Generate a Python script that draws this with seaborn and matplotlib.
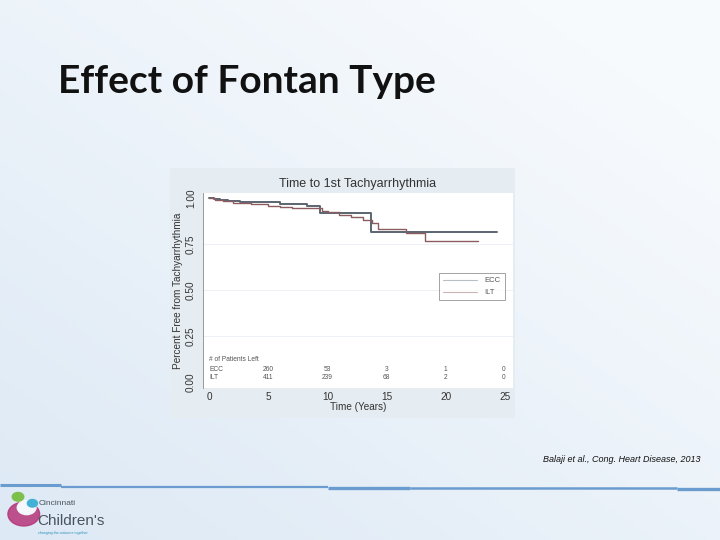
import numpy as np
import pandas as pd
import matplotlib
matplotlib.use('Agg')
import matplotlib.pyplot as plt
import seaborn as sns

# curva ECC (Kaplan-Meier, escalones)
ecc_t = [0, 0.4, 0.9, 1.6, 2.6, 4.0, 6.0, 8.3, 9.4, 13.7, 24.3]
ecc_s = [1.0, 0.994, 0.99, 0.985, 0.98, 0.977, 0.967, 0.956, 0.918, 0.815, 0.815]

# curva ILT
ilt_t = [0, 0.5, 1.2, 2.0, 3.5, 5.0, 6.0, 7.0, 8.5, 9.5, 10.0, 11.0, 12.0, 13.0, 13.8, 14.3, 16.6, 18.2, 22.7]
ilt_s = [1.0, 0.99, 0.982, 0.975, 0.965, 0.955, 0.95, 0.946, 0.943, 0.93, 0.922, 0.91, 0.895, 0.882, 0.864, 0.833, 0.81, 0.765, 0.765]

# pacientes en riesgo
riesgo_x = [0, 5, 10, 15, 20, 25]
riesgo_ecc = ['', '260', '53', '3', '1', '0']
riesgo_ilt = ['', '411', '239', '68', '2', '0']

df = pd.DataFrame({
    'time': ecc_t + ilt_t,
    'surv': ecc_s + ilt_s,
    'grupo': ['ECC'] * len(ecc_t) + ['ILT'] * len(ilt_t),
})
colores = {'ECC': '#5b6470', 'ILT': '#8c5c60'}

sns.set_style('white')
plt.rcParams['font.family'] = ['Liberation Sans', 'DejaVu Sans']

fig = plt.figure(figsize=(7.2, 5.4), dpi=100)

# fondo de la diapositiva (degradado azul claro)
bg = fig.add_axes([0, 0, 1, 1], zorder=-10)
gx, gy = np.meshgrid(np.linspace(0, 1, 200), np.linspace(0, 1, 150))
grad = np.clip(0.55 * gx + 0.6 * (1 - gy), 0, 1)
cmap = matplotlib.colors.LinearSegmentedColormap.from_list('fondo', ['#dde9f5', '#f7fafd'])
bg.imshow(grad, cmap=cmap, aspect='auto', extent=[0, 1, 0, 1], origin='upper')
bg.set_xlim(0, 1)
bg.set_ylim(0, 1)
bg.axis('off')

# lineas azules inferiores
for x0, x1, y, lw in [(0, 0.085, 0.101, 2.2), (0.085, 0.455, 0.099, 1.6),
                      (0.455, 0.57, 0.097, 2.4), (0.57, 0.94, 0.097, 1.8), (0.94, 1.0, 0.094, 2.4)]:
    bg.plot([x0, x1], [y, y], color='#6a9ccf', lw=lw, solid_capstyle='butt')

# titulo de la diapositiva
fig.text(0.08, 0.849, 'Effect of Fontan Type', fontsize=28, fontweight='bold',
         family=['Lato', 'DejaVu Sans'], color='#111111', va='center')
fig.text(0.973, 0.15, 'Balaji et al., Cong. Heart Disease, 2013', fontsize=6.5,
         style='italic', ha='right', va='center', color='#111111')

# logo (aproximado)
lx, ly = 0.033, 0.048
bg.add_patch(matplotlib.patches.Circle((lx, ly), 0.022, transform=bg.transAxes,
                                        color='#b5357a', alpha=0.85))
bg.add_patch(matplotlib.patches.Circle((lx + 0.004, ly + 0.012), 0.013, transform=bg.transAxes,
                                        color='#f4f7fb'))
bg.add_patch(matplotlib.patches.Circle((lx - 0.008, ly + 0.032), 0.008, transform=bg.transAxes,
                                        color='#7cc04b'))
bg.add_patch(matplotlib.patches.Circle((lx + 0.012, ly + 0.02), 0.007, transform=bg.transAxes,
                                        color='#43b1d6'))
fig.text(0.053, 0.068, 'Cincinnati', fontsize=6, color='#4a545e', va='center')
fig.text(0.052, 0.035, "Children's", fontsize=11, color='#4a545e', va='center',
         family=['Liberation Sans Narrow', 'Liberation Sans'])
fig.text(0.053, 0.013, 'changing the outcome together', fontsize=2.6, color='#2a8fb8', va='center')

# panel de la figura original
panel = fig.add_axes([170 / 720, 1 - 418 / 540, 345 / 720, 250 / 540], zorder=-5)
panel.set_facecolor('#e5ecf2')
panel.set_xticks([])
panel.set_yticks([])
for s in panel.spines.values():
    s.set_visible(False)

ax = fig.add_axes([203 / 720, 1 - 388 / 540, 310 / 720, 195 / 540])
ax.set_facecolor('white')
sns.lineplot(data=df, x='time', y='surv', hue='grupo', palette=colores,
             drawstyle='steps-post', estimator=None, ax=ax, legend=False)
for ln, lw in zip(ax.lines, [1.4, 1.0]):
    ln.set_linewidth(lw)

ax.set_xlim(-0.53, 25.68)
ax.set_ylim(-0.033, 1.027)
ax.set_yticks([0, 0.25, 0.5, 0.75, 1.0])
ax.set_yticklabels(['0.00', '0.25', '0.50', '0.75', '1.00'], rotation=90, va='center')
ax.set_xticks([0, 5, 10, 15, 20, 25])
ax.tick_params(axis='both', labelsize=7.2, colors='#333333', length=3, width=0.6, pad=2)
ax.tick_params(axis='x', length=0, pad=3)
for yv in [0.25, 0.5, 0.75]:
    ax.axhline(yv, color='#eaeef2', lw=0.6, zorder=0)
for s in ['top', 'right', 'bottom']:
    ax.spines[s].set_visible(False)
ax.spines['left'].set_color('#888888')
ax.spines['left'].set_linewidth(0.6)
ax.set_xlabel('Time (Years)', fontsize=7.2, color='#333333', labelpad=0)
ax.set_ylabel('Percent Free from Tachyarrhythmia', fontsize=7.2, color='#333333', labelpad=2)
ax.set_title('Time to 1st Tachyarrhythmia', fontsize=9, color='#333333', pad=4)

# tabla de pacientes
fs = 4.8
ax.text(0.0, 0.12, '# of Patients Left', fontsize=fs, color='#555555', va='center')
ax.text(0.0, 0.07, 'ECC', fontsize=fs, color='#555555', va='center')
ax.text(0.0, 0.022, 'ILT', fontsize=fs, color='#555555', va='center')
for x, a, b in zip(riesgo_x, riesgo_ecc, riesgo_ilt):
    ha = 'right' if x == 25 else 'center'
    ax.text(x, 0.07, a, fontsize=fs, color='#555555', va='center', ha=ha)
    ax.text(x, 0.022, b, fontsize=fs, color='#555555', va='center', ha=ha)

# leyenda
h = [matplotlib.lines.Line2D([], [], color='#b9bfc6', lw=0.8),
     matplotlib.lines.Line2D([], [], color='#c9b3b5', lw=0.8)]
leg = ax.legend(h, ['ECC', 'ILT'], loc='center right', bbox_to_anchor=(0.985, 0.52),
                fontsize=5.5, frameon=True, fancybox=False, handlelength=4.5,
                borderpad=0.5, labelspacing=0.6, handletextpad=1.0)
leg.get_frame().set_edgecolor('#777777')
leg.get_frame().set_linewidth(0.6)
for t in leg.get_texts():
    t.set_color('#555555')

fig.savefig('out.png', dpi=100)
